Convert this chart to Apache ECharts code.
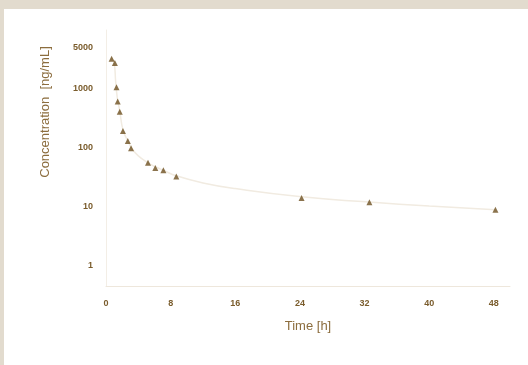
<!DOCTYPE html>
<html><head><meta charset="utf-8">
<script src="https://cdn.jsdelivr.net/npm/echarts@6/dist/echarts.min.js"></script>
<style>
html,body{margin:0;padding:0;background:#e2dbce;}
#wrap{position:absolute;left:4px;top:9px;width:524px;height:356px;background:#ffffff;}
#c{position:absolute;left:0;top:0;width:528px;height:365px;}
</style></head>
<body><div id="wrap"></div><div id="c"></div>
<script>
const timesH = [0.7, 1.1, 1.3, 1.45, 1.7, 2.1, 2.7, 3.1, 5.2, 6.1, 7.1, 8.7, 24.2, 32.6, 48.2];
const concNgMl = [3240, 2740, 1060, 610, 405, 192, 129, 97, 55, 45, 41, 32, 13.9, 11.7, 8.7];
const fitTimes = [0.6, 1.0, 1.2, 1.4, 1.7, 2.1, 2.7, 3.2, 4.0, 5.2, 6.1, 7.1, 8.7, 12, 16, 24.2, 32.6, 40, 48.2];
const fitConc = [3400, 2800, 1300, 700, 420, 200, 130, 96, 72, 55, 47, 41, 33, 25, 20, 14.5, 11.8, 10.1, 8.7];
const xTicks = [0, 8, 16, 24, 32, 40, 48];
const yTicks = [1, 10, 100, 1000, 5000];
const xTitle = 'Time [h]';
const yTitle = 'Concentration  [ng/mL]';

const chart = echarts.init(document.getElementById('c'), null, {renderer:'canvas'});
const labelColor = '#7a5c2c';
const titleColor = '#8c6d3e';
chart.setOption({
  backgroundColor: 'transparent',
  animation: false,
  grid: {left: 106, right: 18, top: 30, bottom: 79},
  graphic: [{
    type: 'text', x: 45, y: 112, rotation: Math.PI / 2,
    style: {text: yTitle, fill: titleColor, fontSize: 13, fontFamily: 'Liberation Sans',
      align: 'center', verticalAlign: 'middle'}
  }],
  xAxis: {
    type: 'value', min: 0, max: 50, interval: 8,
    axisLine: {show: true, lineStyle: {color: '#eee7dc', width: 1}},
    axisTick: {show: false},
    splitLine: {show: false},
    axisLabel: {customValues: xTicks, formatter: v => String(v), color: labelColor, fontSize: 9, fontWeight: 'bold', fontFamily: 'Liberation Sans', margin: 13},
    name: xTitle, nameLocation: 'middle', nameGap: 34,
    nameTextStyle: {color: titleColor, fontSize: 13, fontFamily: 'Liberation Sans'}
  },
  yAxis: {
    type: 'log', logBase: 10, min: 0.44, max: 10000,
    axisLine: {show: true, lineStyle: {color: '#f3eee6', width: 1}},
    axisTick: {show: false},
    splitLine: {show: false},
    axisLabel: {customValues: yTicks, formatter: v => String(v), color: labelColor, fontSize: 9, fontWeight: 'bold', fontFamily: 'Liberation Sans', margin: 13, align: 'right'}
  },
  series: [
    {
      type: 'line', data: fitTimes.map((t, i) => [t, fitConc[i]]),
      smooth: true, showSymbol: false, symbol: 'none',
      lineStyle: {color: '#f1ebe1', width: 1.5}, z: 1
    },
    {
      type: 'scatter', data: timesH.map((t, i) => [t, concNgMl[i]]),
      symbol: 'triangle', symbolSize: 6,
      itemStyle: {color: '#6e5020'}, z: 3
    }
  ]
});
</script>
</body></html>
